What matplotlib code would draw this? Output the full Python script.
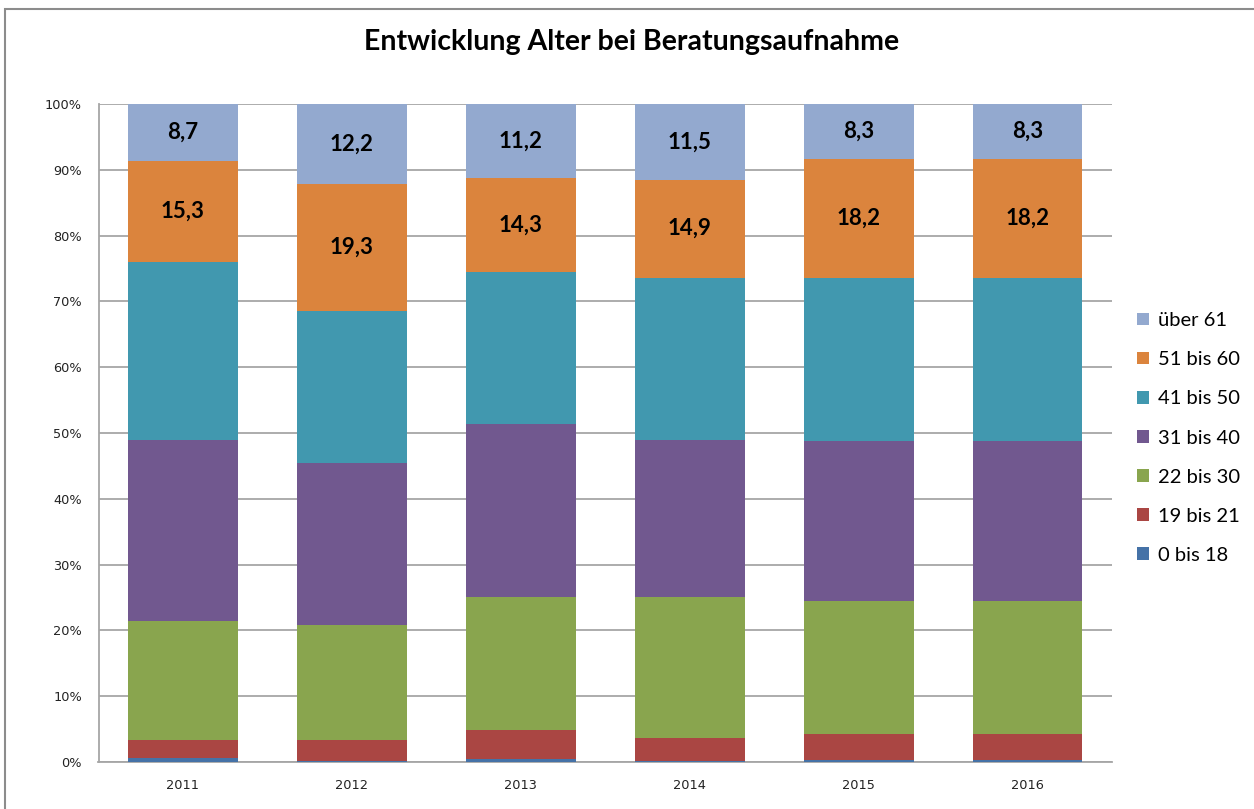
import numpy as np
import matplotlib.pyplot as plt
from matplotlib.patches import Rectangle

years = ['2011', '2012', '2013', '2014', '2015', '2016']

# Anteile in Prozent je Altersgruppe (von unten nach oben gestapelt)
alter_0_18 = [0.6, 0.1, 0.4, 0.1, 0.3, 0.3]
alter_19_21 = [2.8, 3.3, 4.4, 3.5, 3.9, 3.9]
alter_22_30 = [18.0, 17.4, 20.3, 21.5, 20.3, 20.3]
alter_31_40 = [27.5, 24.8, 26.2, 23.8, 24.4, 24.4]
alter_41_50 = [27.1, 23.1, 23.2, 24.7, 24.7, 24.7]
alter_51_60 = [15.3, 19.3, 14.3, 14.9, 18.2, 18.2]
alter_ueber_61 = [8.7, 12.2, 11.2, 11.5, 8.3, 8.3]

series = [alter_0_18, alter_19_21, alter_22_30, alter_31_40,
          alter_41_50, alter_51_60, alter_ueber_61]
labels = ['0 bis 18', '19 bis 21', '22 bis 30', '31 bis 40',
          '41 bis 50', '51 bis 60', 'über 61']
colors = ['#4572A7', '#AA4643', '#89A54E', '#71588F',
          '#4198AF', '#DB843D', '#93A9CF']
show_labels = [False, False, False, False, False, True, True]

W, H = 1254, 809
fig = plt.figure(figsize=(W / 100, H / 100), dpi=100)
ax = fig.add_axes([98.5 / W, (H - 762) / H, (1112 - 98.5) / W, (762 - 104) / H])

data = np.array(series, dtype=float)
totals = data.sum(axis=0)
pct = data / totals * 100  # 100%-gestapelt wie in Excel
x = np.arange(len(years))
bottom = np.zeros(len(years))
handles = []
for vals, raw, lab, col, show in zip(pct, data, labels, colors, show_labels):
    b = ax.bar(x, vals, 0.65, bottom=bottom, color=col, label=lab,
               edgecolor='none', zorder=3)
    handles.append(b)
    if show:
        for xi, v, bt, r in zip(x, vals, bottom, raw):
            ax.text(xi, bt + v / 2, f'{r:.1f}'.replace('.', ','),
                    ha='center', va='center', fontsize=16,
                    fontweight='bold', family='Lato', zorder=4)
    bottom += vals

ax.set_xlim(-0.5, len(years) - 0.5)
ax.set_ylim(0, 100)
ax.set_yticks(np.arange(0, 101, 10))
ax.set_yticklabels([f'{v}%' for v in range(0, 101, 10)])
ax.set_xticks(x)
ax.set_xticklabels(years)
ax.tick_params(axis='both', length=0, labelsize=9.3, colors='#222222')
ax.tick_params(axis='y', pad=12)
ax.tick_params(axis='x', pad=12)
ax.grid(axis='y', color='#a6a6a6', linewidth=1.3, zorder=0)
for s in ['top', 'right']:
    ax.spines[s].set_visible(False)
for s in ['left', 'bottom']:
    ax.spines[s].set_color('#a6a6a6')
    ax.spines[s].set_linewidth(1.3)

leg = fig.legend(handles[::-1], labels[::-1], loc='center left',
                 bbox_to_anchor=(1119 / W, 1 - 438 / H), frameon=False,
                 prop={'family': 'Lato', 'size': 14.5}, handlelength=0.6,
                 handleheight=0.6, handletextpad=0.42, labelspacing=1.1)

fig.text(632 / W, 1 - 42 / H, 'Entwicklung Alter bei Beratungsaufnahme',
         ha='center', va='center', fontsize=20.5, fontweight='bold',
         family='Lato')

fig.patches.append(Rectangle((5 / W, -0.1), 1.2, 1.1 - 9 / H,
                             transform=fig.transFigure, fill=False,
                             edgecolor='#8c8c8c', linewidth=1.5))

fig.savefig('out.png', dpi=100)
